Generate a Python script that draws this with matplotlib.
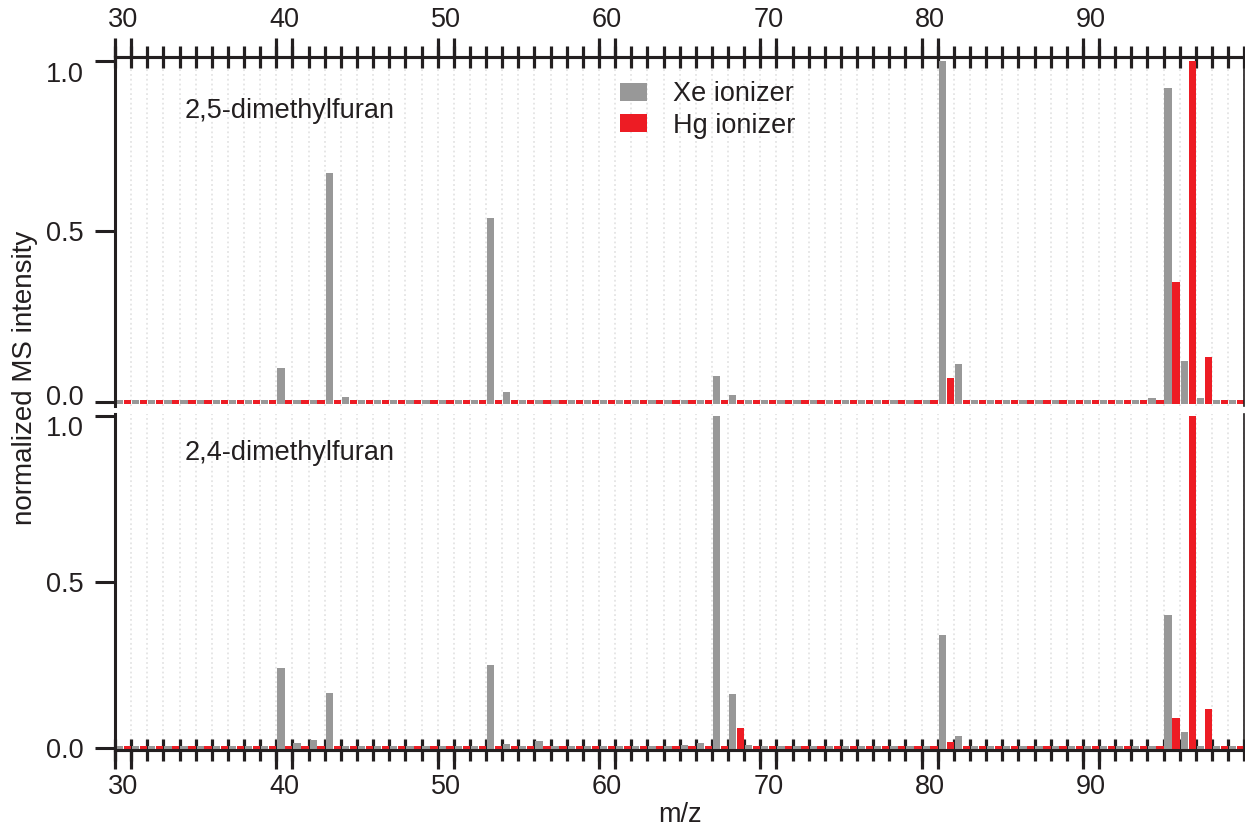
import numpy as np
import matplotlib
matplotlib.use('Agg')
from matplotlib import pyplot as plt
from matplotlib.patches import Patch
from matplotlib.transforms import ScaledTranslation

plt.rcParams['font.family'] = ['Liberation Sans', 'DejaVu Sans']
plt.rcParams['text.color'] = '#231f20'
plt.rcParams['xtick.color'] = '#231f20'
plt.rcParams['ytick.color'] = '#231f20'

# m/z channels
mz = np.arange(30, 100)
base = 0.006  # level of the empty channels

# 2,5-dimethylfuran
xe_25_mz = [40, 43, 44, 53, 54, 67, 68, 81, 82, 94, 95, 96, 97]
xe_25_val = [0.10, 0.67, 0.015, 0.54, 0.03, 0.075, 0.02, 1.0, 0.11, 0.012, 0.92, 0.12, 0.012]
hg_25_mz = [81, 95, 96, 97]
hg_25_val = [0.07, 0.35, 1.0, 0.13]

# 2,4-dimethylfuran
xe_24_mz = [40, 41, 42, 43, 53, 54, 56, 65, 66, 67, 68, 69, 81, 82, 95, 96]
xe_24_val = [0.24, 0.015, 0.025, 0.165, 0.25, 0.012, 0.02, 0.01, 0.015, 1.0, 0.163, 0.01, 0.34, 0.036, 0.40, 0.048]
hg_24_mz = [68, 81, 95, 96, 97]
hg_24_val = [0.06, 0.018, 0.09, 1.0, 0.117]

label_mz = [30, 40, 50, 60, 70, 80, 90]

grey = '#989898'
red = '#ed1c24'
dark = '#231f20'
fs = 19.5


def spectrum(peaks_mz, peaks_val):
    s = np.full(len(mz), base)
    for m, v in zip(peaks_mz, peaks_val):
        s[m - mz[0]] = v
    return s


def draw_panel(ax, xe, hg, name, name_y, side):
    bottom = -base
    ax.bar(mz - 0.22, xe - bottom, bottom=bottom, width=0.45, color=grey, zorder=2)
    ax.bar(mz + 0.27, hg - bottom, bottom=bottom, width=0.45, color=red, zorder=2)
    ax.set_xlim(29.5, 99.5)

    edges = np.arange(29.5, 100.0, 1.0)
    long_ticks = sorted([m - 0.5 for m in label_mz] + [m + 0.5 for m in label_mz])

    ax.set_xticks(label_mz)
    ax.set_xticklabels([str(m) for m in label_mz])
    ax.set_xticks(edges, minor=True)
    on_top = side == 'top'
    ax.tick_params(axis='x', which='major', length=0, pad=17, labelsize=fs,
                   top=on_top, bottom=not on_top, labeltop=on_top, labelbottom=not on_top)
    ax.tick_params(axis='x', which='minor', direction='inout', length=16, width=2.3,
                   top=on_top, bottom=not on_top)
    sec = ax.secondary_xaxis(side)
    sec.set_xticks(long_ticks)
    sec.set_xticklabels([])
    sec.tick_params(direction='out', length=14, width=2.3, color=dark)
    sec.spines[side].set_linewidth(2.2)
    sec.spines[side].set_color(dark)

    ax.set_yticks([0.0, 0.5, 1.0])
    ax.set_yticklabels(['0.0', '0.5', '1.0'])
    ax.tick_params(axis='y', direction='out', length=14.5, width=2.2, pad=8, labelsize=fs)

    ax.grid(which='minor', axis='x', linestyle=':', color='#e4e4e4', linewidth=1.3)
    ax.grid(which='major', visible=False)
    ax.set_axisbelow(True)

    for sp in ax.spines.values():
        sp.set_color(dark)
    ax.spines['left'].set_linewidth(2.2)
    ax.spines['right'].set_linewidth(1.2)
    ax.spines[side].set_linewidth(2.2)
    ax.spines['bottom' if on_top else 'top'].set_visible(False)

    ax.text(0.062, name_y, name, transform=ax.transAxes, fontsize=fs, va='center', ha='left')


def nudge(label, dy_px):
    label.set_transform(label.get_transform() + ScaledTranslation(0, dy_px / 100, fig.dpi_scale_trans))


fig = plt.figure(figsize=(12.45, 8.3), dpi=100)
ax1 = fig.add_axes([0.0924, 0.511, 0.907, 0.4205])
ax2 = fig.add_axes([0.0924, 0.0964, 0.907, 0.405])

draw_panel(ax1, spectrum(xe_25_mz, xe_25_val), spectrum(hg_25_mz, hg_25_val),
           '2,5-dimethylfuran', 0.845, 'top')
ax1.set_ylim(-0.012, 1.012)
draw_panel(ax2, spectrum(xe_24_mz, xe_24_val), spectrum(hg_24_mz, hg_24_val),
           '2,4-dimethylfuran', 0.884, 'bottom')
ax2.set_ylim(-0.006, 1.005)

# keep the end labels inside each panel, as in the original
ylab1 = ax1.get_yticklabels()
nudge(ylab1[0], 7)
nudge(ylab1[2], -11)
ylab2 = ax2.get_yticklabels()
nudge(ylab2[2], -10)

handles = [Patch(facecolor=grey, label='Xe ionizer'), Patch(facecolor=red, label='Hg ionizer')]
ax1.legend(handles=handles, loc='upper left', bbox_to_anchor=(0.447, 0.93), frameon=False,
           fontsize=fs, handlelength=1.0, handleheight=0.65, handletextpad=0.95,
           borderpad=0, borderaxespad=0, labelspacing=0.2)

fig.text(0.020, 0.545, 'normalized MS intensity', rotation=90, ha='center', va='center', fontsize=fs + 0.5)
fig.text(0.546, 0.003, 'm/z', ha='center', va='bottom', fontsize=fs)

fig.savefig('out.png', dpi=100)
